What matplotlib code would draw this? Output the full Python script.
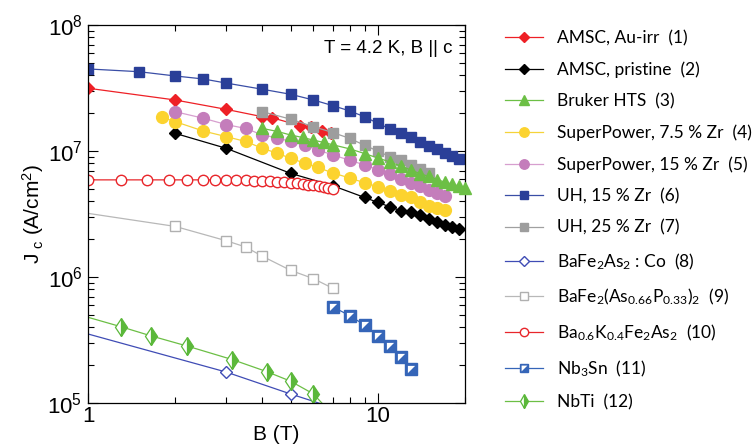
import matplotlib
matplotlib.use('Agg')
import matplotlib.pyplot as plt
from matplotlib.ticker import FixedLocator, NullFormatter, LogLocator

plt.rcParams['font.family'] = ['Liberation Sans', 'DejaVu Sans']
plt.rcParams['mathtext.default'] = 'regular'

# ---- data (B in T, Jc in A/cm^2) ----
B_amsc_au = [1, 2, 3, 4, 4.3, 5.4, 5.9, 6.4, 6.9]
J_amsc_au = [3.15e7, 2.54e7, 2.14e7, 1.87e7, 1.84e7, 1.59e7, 1.54e7, 1.45e7, 1.40e7]

B_amsc_pr = [2, 3, 5, 7, 9, 10, 11, 12, 13, 14, 15, 16, 17, 18, 19]
J_amsc_pr = [1.38e7, 1.05e7, 6.65e6, 5.3e6, 4.28e6, 3.91e6, 3.61e6, 3.36e6, 3.26e6,
             3.11e6, 2.87e6, 2.75e6, 2.59e6, 2.48e6, 2.40e6]

B_bruker = [4, 4.5, 5, 5.5, 6, 6.5, 7, 8, 9, 10, 11, 12, 13, 14, 15, 16, 17, 18, 19, 20]
J_bruker = [1.51e7, 1.43e7, 1.34e7, 1.28e7, 1.22e7, 1.17e7, 1.12e7, 1.04e7, 9.55e6, 8.8e6,
            8.2e6, 7.6e6, 7.07e6, 6.6e6, 6.28e6, 5.94e6, 5.67e6, 5.47e6, 5.28e6, 5.13e6]

B_sp75 = [1.8, 2, 2.5, 3, 3.5, 4, 4.5, 5, 5.6, 6.2, 7, 8, 9, 10, 11, 12, 13, 14, 15, 16, 17]
J_sp75 = [1.85e7, 1.71e7, 1.44e7, 1.30e7, 1.19e7, 1.05e7, 9.6e6, 8.75e6, 8.0e6, 7.4e6,
          6.7e6, 6.1e6, 5.6e6, 5.2e6, 4.85e6, 4.5e6, 4.3e6, 3.95e6, 3.65e6, 3.5e6, 3.4e6]

B_sp15 = [2, 2.5, 3, 3.5, 4, 4.5, 5, 5.6, 6.2, 7, 8, 9, 10, 11, 12, 13, 14, 15, 16, 17]
J_sp15 = [2.05e7, 1.82e7, 1.62e7, 1.51e7, 1.34e7, 1.27e7, 1.19e7, 1.12e7, 1.02e7, 9.3e6,
          8.45e6, 7.75e6, 7.1e6, 6.55e6, 6.0e6, 5.6e6, 5.25e6, 4.92e6, 4.65e6, 4.4e6]

B_uh15 = [1, 1.5, 2, 2.5, 3, 4, 5, 6, 7, 8, 9, 10, 11, 12, 13, 14, 15, 16, 17, 18, 19]
J_uh15 = [4.48e7, 4.26e7, 3.94e7, 3.73e7, 3.46e7, 3.09e7, 2.82e7, 2.54e7, 2.29e7, 2.08e7,
          1.87e7, 1.66e7, 1.50e7, 1.38e7, 1.28e7, 1.18e7, 1.10e7, 1.03e7, 9.6e6, 9.1e6, 8.7e6]

B_uh25 = [4, 5, 6, 7, 8, 9, 10, 11, 12, 13, 14, 15]
J_uh25 = [2.05e7, 1.79e7, 1.56e7, 1.40e7, 1.26e7, 1.11e7, 1.0e7, 9.0e6, 8.5e6, 7.75e6, 7.2e6, 6.7e6]

B_co = [1, 3, 5, 6.6]
J_co = [3.53e5, 1.76e5, 1.18e5, 9.6e4]

B_p = [1, 2, 3, 3.5, 4, 5, 6, 7]
J_p = [3.2e6, 2.52e6, 1.94e6, 1.73e6, 1.46e6, 1.13e6, 9.7e5, 8.13e5]

B_k = [1, 1.3, 1.6, 1.9, 2.2, 2.5, 2.75, 3.0, 3.25, 3.5, 3.75, 4.0, 4.25, 4.5, 4.75,
       5.0, 5.25, 5.5, 5.75, 6.0, 6.25, 6.5, 6.75, 7.0]
J_k = [5.9e6, 5.9e6, 5.9e6, 5.9e6, 5.9e6, 5.9e6, 5.9e6, 5.9e6, 5.88e6, 5.85e6, 5.82e6, 5.8e6,
       5.76e6, 5.72e6, 5.68e6, 5.62e6, 5.56e6, 5.5e6, 5.42e6, 5.35e6, 5.28e6, 5.2e6, 5.1e6, 5.0e6]

B_nb3sn = [7, 8, 9, 10, 11, 12, 13]
J_nb3sn = [5.8e5, 4.93e5, 4.16e5, 3.40e5, 2.83e5, 2.33e5, 1.86e5]

B_nbti = [1, 1.3, 1.65, 2.2, 3.15, 4.15, 5, 6, 6.6]
J_nbti = [4.79e5, 4.03e5, 3.41e5, 2.83e5, 2.21e5, 1.77e5, 1.49e5, 1.18e5, 9.3e4]

labels = [
    'AMSC, Au-irr  (1)',
    'AMSC, pristine  (2)',
    'Bruker HTS  (3)',
    'SuperPower, 7.5 % Zr  (4)',
    'SuperPower, 15 % Zr  (5)',
    'UH, 15 % Zr  (6)',
    'UH, 25 % Zr  (7)',
    r'BaFe$_2$As$_2$ : Co  (8)',
    r'BaFe$_2$(As$_{0.66}$P$_{0.33}$)$_2$  (9)',
    r'Ba$_{0.6}$K$_{0.4}$Fe$_2$As$_2$  (10)',
    r'Nb$_3$Sn  (11)',
    'NbTi  (12)',
]

fig = plt.figure(figsize=(7.55, 4.47), dpi=100)
ax = fig.add_axes([88 / 755, 1 - 403 / 447, 377 / 755, 378 / 447])

lw = 0.9
h = []
h.append(ax.plot(B_amsc_au, J_amsc_au, '-', color='#ee2026', lw=lw, marker='D', ms=6.5,
                 mfc='#ee2026', mec='#ee2026')[0])
h.append(ax.plot(B_amsc_pr, J_amsc_pr, '-', color='black', lw=lw, marker='D', ms=6.5,
                 mfc='black', mec='black')[0])
h.append(ax.plot(B_bruker, J_bruker, '-', color='#6cbf45', lw=lw, marker='^', ms=8.5,
                 mfc='#6cbf45', mec='#6cbf45', clip_on=False, zorder=3)[0])
h.append(ax.plot(B_sp75, J_sp75, '-', color='#f5d33a', lw=lw, marker='o', ms=8.5,
                 mfc='#fcd32f', mec='#fcd32f')[0])
h.append(ax.plot(B_sp15, J_sp15, '-', color='#d79fcf', lw=lw, marker='o', ms=8.5,
                 mfc='#c47dbb', mec='#c47dbb')[0])
h.append(ax.plot(B_uh15, J_uh15, '-', color='#3a4ea6', lw=lw, marker='s', ms=6.5,
                 mfc='#2a3f98', mec='#2a3f98')[0])
h.append(ax.plot(B_uh25, J_uh25, '-', color='#a0a0a0', lw=lw, marker='s', ms=6.5,
                 mfc='#9d9d9d', mec='#9d9d9d')[0])
h.append(ax.plot(B_co, J_co, '-', color='#3f4cb5', lw=lw, marker='D', ms=6.5,
                 mfc='white', mec='#3f4cb5', mew=1.0, markevery=[1, 2])[0])
h.append(ax.plot(B_p, J_p, '-', color='#b8b8b8', lw=lw, marker='s', ms=7.5,
                 mfc='white', mec='#b0b0b0', mew=1.0, markevery=list(range(1, len(B_p))))[0])
h.append(ax.plot(B_k, J_k, '-', color='#e8262b', lw=lw, marker='o', ms=7.5,
                 mfc='white', mec='#e8262b', mew=1.0)[0])
sq = ax.plot(B_nb3sn, J_nb3sn, '-', color='#3565b8', lw=lw, marker='s', ms=8,
             mfc='#3565b8', mec='#3565b8', mew=1.0)[0]
tri = ax.plot(B_nb3sn, J_nb3sn, linestyle='none', marker=[(-1, 1), (1, 1), (-1, -1)],
              ms=5.2, mfc='white', mec='none')[0]
h.append((sq, tri))
h.append(ax.plot(B_nbti, J_nbti, '-', color='#6cbf45', lw=lw, marker='d', ms=9.5,
                 fillstyle='right', mfc='#5bb83a', mfcalt='white', mec='#5bb83a', mew=0.9,
                 markevery=list(range(1, 8)))[0])

ax.set_xscale('log')
ax.set_yscale('log')
ax.set_xlim(1, 20)
ax.set_ylim(1e5, 1e8)
ax.xaxis.set_major_locator(FixedLocator([1, 10]))
ax.set_xticklabels(['1', '10'])
ax.xaxis.set_minor_locator(LogLocator(base=10, subs=range(2, 10)))
ax.xaxis.set_minor_formatter(NullFormatter())
ax.yaxis.set_minor_locator(LogLocator(base=10, subs=range(2, 10)))
ax.yaxis.set_minor_formatter(NullFormatter())
ax.tick_params(which='both', direction='in', top=True, right=True, labelsize=16, width=0.8)
ax.tick_params(which='major', length=7, pad=4)
ax.tick_params(axis='x', which='major', pad=2)
ax.tick_params(which='minor', length=4)
for s in ax.spines.values():
    s.set_linewidth(0.9)

ax.set_xlabel('B (T)', fontsize=15, labelpad=-1)
ax.set_ylabel(r'J$_{\ c}$ (A/cm$^2$)', fontsize=15, labelpad=1)
ax.text(0.966, 0.939, 'T = 4.2 K, B || c', transform=ax.transAxes, ha='right', va='center',
        fontsize=13.5)

fig.legend(h, labels, loc='upper left', bbox_to_anchor=(505 / 755, 1 - 30 / 447),
           frameon=False, prop={'family': ['Lato', 'DejaVu Sans'], 'size': 12.5},
           handlelength=2.2, handletextpad=0.8, labelspacing=0.88, borderpad=0,
           borderaxespad=0, markerscale=0.8)

fig.savefig('out.png', dpi=100)
